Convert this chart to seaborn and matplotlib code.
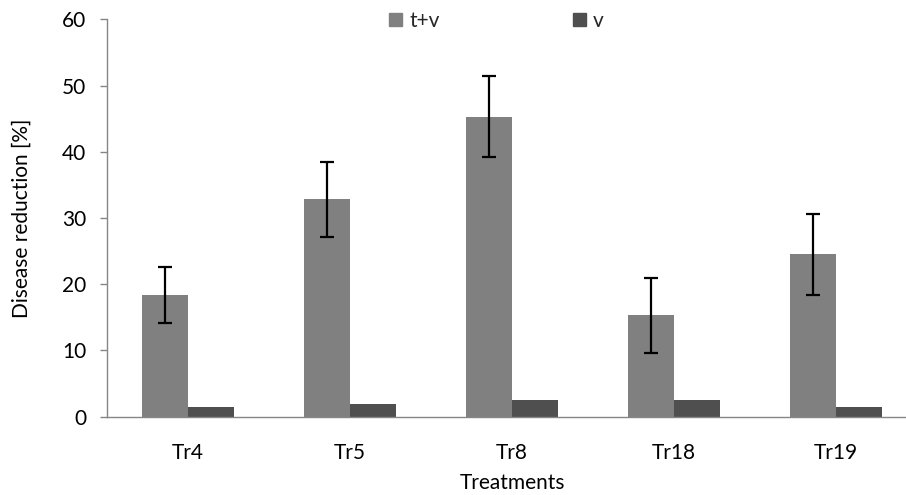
import numpy as np
import pandas as pd
import seaborn as sns
import matplotlib.pyplot as plt

# values
treatments = ["Tr4", "Tr5", "Tr8", "Tr18", "Tr19"]
tv_values = [18.4, 32.8, 45.3, 15.3, 24.5]
tv_errors = [4.2, 5.7, 6.1, 5.65, 6.1]
v_values = [1.45, 1.9, 2.5, 2.5, 1.45]
series = ["t+v", "v"]

sns.set_theme(style="white")
plt.rcParams['font.family'] = ['Lato', 'DejaVu Sans']

df = pd.DataFrame({
    "Treatment": treatments * 2,
    "Group": [series[0]] * len(treatments) + [series[1]] * len(treatments),
    "Reduction": tv_values + v_values,
})

fig = plt.figure(figsize=(9.06, 4.95), dpi=100)
ax = fig.add_axes([107 / 906, 78.3 / 495, 810 / 906, 397.4 / 495])

sns.barplot(data=df, x="Treatment", y="Reduction", hue="Group",
            order=treatments, hue_order=series,
            palette=["#808080", "#4f4f4f"], width=0.568,
            errorbar=None, saturation=1, linewidth=0, ax=ax)

# error bars on the t+v bars only
bars = ax.containers[0]
xs = [b.get_x() + b.get_width() / 2 for b in bars]
ax.errorbar(xs, tv_values, yerr=tv_errors, fmt="none", ecolor="black",
            elinewidth=1.6, capsize=5, capthick=1.6)

ax.set_xlim(-0.5, 4.5)
ax.set_ylim(0, 60)
ax.set_yticks(range(0, 61, 10))

for side in ["top", "right"]:
    ax.spines[side].set_visible(False)
for side in ["left", "bottom"]:
    ax.spines[side].set_color("#868686")
    ax.spines[side].set_linewidth(1.0)

fs = 15
ax.tick_params(axis="y", direction="out", length=5, width=1, color="#868686",
               pad=10, labelsize=fs, labelcolor="black", left=True)
ax.tick_params(axis="x", length=0, pad=19, labelsize=fs, labelcolor="black")

ax.set_xlabel("Treatments", fontsize=fs, labelpad=7, color="black")
ax.set_ylabel("Disease reduction [%]", fontsize=fs, labelpad=22, color="black")

ax.legend_.remove()
handles = [plt.Rectangle((0, 0), 1, 1, color=c) for c in ["#808080", "#4f4f4f"]]
fig.legend(handles, series, loc="center left", bbox_to_anchor=(389 / 906, 1 - 21 / 495),
           ncol=2, frameon=False, fontsize=fs, handlelength=0.62, handleheight=0.62,
           handletextpad=0.35, columnspacing=6.4, borderaxespad=0, borderpad=0)

fig.savefig("out.png", dpi=100)
